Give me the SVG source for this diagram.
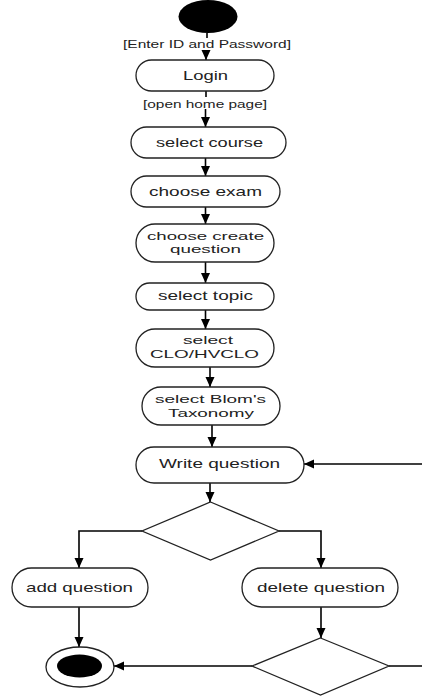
<svg xmlns="http://www.w3.org/2000/svg" width="422" height="696" viewBox="0 0 422 696">
  <style>
    .act { fill: #ffffff; stroke: #222222; stroke-width: 1.3; }
    .dec { fill: #ffffff; stroke: #222222; stroke-width: 1.3; }
    .lbl { font-family: "Liberation Sans", Arial, sans-serif; font-size: 13px; fill: #222222; text-anchor: middle; }
    .lbl2 { font-family: "Liberation Sans", Arial, sans-serif; font-size: 11.5px; fill: #222222; text-anchor: middle; }
    .grd { font-family: "Liberation Sans", Arial, sans-serif; font-size: 10.5px; fill: #222222; text-anchor: middle; }
    .flow { fill: none; stroke: #000000; stroke-width: 1.6; }
  </style>
  <defs>
    <marker id="arrow" markerUnits="userSpaceOnUse" markerWidth="10" markerHeight="10" viewBox="0 0 10 10" refX="10" refY="5" orient="auto">
      <path d="M0,0.5 L10,5 L0,9.5 z" fill="#000000"/>
    </marker>
  </defs>

  <rect width="422" height="696" fill="#ffffff"/>

  <!-- connectors (guarded flows are broken around their guard labels) -->
  <g id="connectors">
    <path class="flow" d="M207,33 V38"/>
    <path class="flow" d="M206,50 V60" marker-end="url(#arrow)"/>
    <path class="flow" d="M206,91 V97"/>
    <path class="flow" d="M205.5,109 V127" marker-end="url(#arrow)"/>
    <path class="flow" d="M205.5,158 V176" marker-end="url(#arrow)"/>
    <path class="flow" d="M205.5,207 V224" marker-end="url(#arrow)"/>
    <path class="flow" d="M205.5,262 V283" marker-end="url(#arrow)"/>
    <path class="flow" d="M205.5,310 V329" marker-end="url(#arrow)"/>
    <path class="flow" d="M210,367 V387" marker-end="url(#arrow)"/>
    <path class="flow" d="M212,425 V447" marker-end="url(#arrow)"/>
    <path class="flow" d="M210,483 V502" marker-end="url(#arrow)"/>
    <path class="flow" d="M142,531 H79 V568" marker-end="url(#arrow)"/>
    <path class="flow" d="M279,531 H321 V568" marker-end="url(#arrow)"/>
    <path class="flow" d="M79,607 V647" marker-end="url(#arrow)"/>
    <path class="flow" d="M321,607 V638" marker-end="url(#arrow)"/>
    <path class="flow" d="M252,666 H114" marker-end="url(#arrow)"/>
    <path class="flow" d="M389,666 H422"/>
    <path class="flow" d="M422,464 H304" marker-end="url(#arrow)"/>
    <text class="grd" x="207" y="48" textLength="168" lengthAdjust="spacingAndGlyphs">[Enter ID and Password]</text>
    <text class="grd" x="205" y="107.5" textLength="124" lengthAdjust="spacingAndGlyphs">[open home page]</text>
  </g>

  <!-- start node -->
  <g id="start">
    <ellipse cx="208" cy="16.5" rx="29.5" ry="16.5" fill="#000000"/>
  </g>

  <g id="login">
    <rect class="act" x="136" y="60" width="138" height="31" rx="15.5"/>
    <text class="lbl" x="205.5" y="80" textLength="45" lengthAdjust="spacingAndGlyphs">Login</text>
  </g>

  <g id="select-course">
    <rect class="act" x="131" y="127" width="155" height="31" rx="15.5"/>
    <text class="lbl" x="209.5" y="147" textLength="107" lengthAdjust="spacingAndGlyphs">select course</text>
  </g>

  <g id="choose-exam">
    <rect class="act" x="131" y="176" width="149" height="31" rx="15.5"/>
    <text class="lbl" x="205.5" y="196" textLength="113" lengthAdjust="spacingAndGlyphs">choose exam</text>
  </g>

  <g id="choose-create-question">
    <rect class="act" x="136" y="224" width="138" height="38" rx="19"/>
    <text class="lbl2" x="205.5" y="240" textLength="117" lengthAdjust="spacingAndGlyphs">choose create</text>
    <text class="lbl2" x="205.5" y="253" textLength="71" lengthAdjust="spacingAndGlyphs">question</text>
  </g>

  <g id="select-topic">
    <rect class="act" x="136" y="283" width="138" height="27" rx="13.5"/>
    <text class="lbl" x="205.5" y="300" textLength="95" lengthAdjust="spacingAndGlyphs">select topic</text>
  </g>

  <g id="select-clo">
    <rect class="act" x="136" y="329" width="138" height="38" rx="19"/>
    <text class="lbl2" x="208" y="344" textLength="50" lengthAdjust="spacingAndGlyphs">select</text>
    <text class="lbl2" x="204.5" y="357.5" textLength="109" lengthAdjust="spacingAndGlyphs">CLO/HVCLO</text>
  </g>

  <g id="select-taxonomy">
    <rect class="act" x="142" y="387" width="138" height="38" rx="19"/>
    <text class="lbl2" x="210.5" y="403" textLength="111" lengthAdjust="spacingAndGlyphs">select Blom's</text>
    <text class="lbl2" x="211" y="416.5" textLength="86" lengthAdjust="spacingAndGlyphs">Taxonomy</text>
  </g>

  <g id="write-question">
    <rect class="act" x="136" y="447" width="168" height="36" rx="18"/>
    <text class="lbl" x="219.5" y="467.5" textLength="121" lengthAdjust="spacingAndGlyphs">Write question</text>
  </g>

  <g id="decision-edit">
    <polygon class="dec" points="210.5,502 279,531 210.5,560 142,531"/>
  </g>

  <g id="add-question">
    <rect class="act" x="12" y="568" width="136" height="39" rx="19.5"/>
    <text class="lbl" x="79.5" y="591.5" textLength="107" lengthAdjust="spacingAndGlyphs">add question</text>
  </g>

  <g id="delete-question">
    <rect class="act" x="242" y="568" width="156" height="39" rx="19.5"/>
    <text class="lbl" x="321" y="591.5" textLength="128" lengthAdjust="spacingAndGlyphs">delete question</text>
  </g>

  <g id="decision-delete">
    <polygon class="dec" points="320.5,638 389,666 320.5,695 252,666"/>
  </g>

  <!-- final node -->
  <g id="end">
    <ellipse cx="80" cy="667" rx="34" ry="20" fill="#ffffff" stroke="#222222" stroke-width="1.3"/>
    <ellipse cx="79.5" cy="666" rx="22.5" ry="11.5" fill="#000000"/>
  </g>
</svg>
